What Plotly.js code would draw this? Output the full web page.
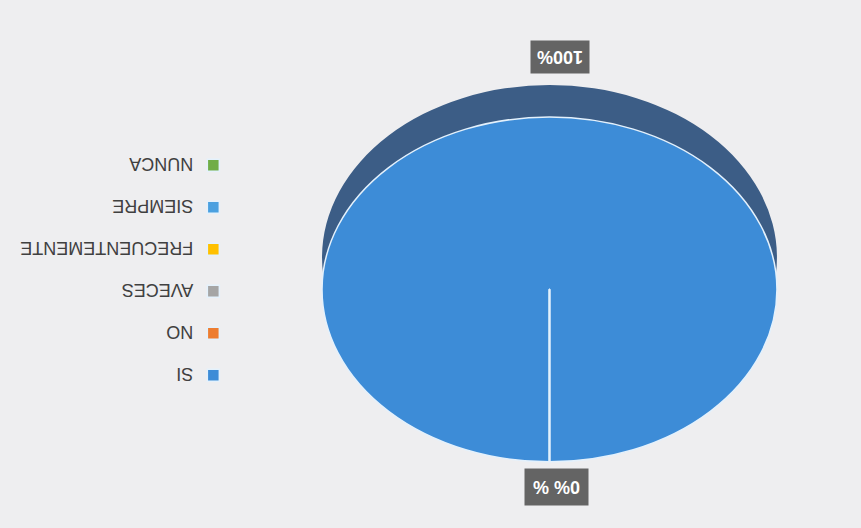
<!DOCTYPE html>
<html>
<head>
<meta charset="utf-8">
<script src="https://cdn.plot.ly/plotly-3.0.1.min.js"></script>
<style>
html, body { margin: 0; padding: 0; background: #eeeef0; overflow: hidden; }
#chart { width: 861px; height: 528px; transform: rotate(180deg); transform-origin: 50% 50%; }
</style>
</head>
<body>
<div id="chart"></div>
<script>
// ---- data ----
const categories = ['SI', 'NO', 'AVECES', 'FRECUENTEMENTE', 'SIEMPRE', 'NUNCA'];
const values = [100, 0, 0, 0, 0, 0];
const sliceColors = ['#3d8cd7', '#ed7d31', '#a5a5a5', '#ffc000', '#4aa0e0', '#70ad47'];
const sideColors = ['#3c5d86', '#9c4f1c', '#6b6b6b', '#a67d00', '#2e6a94', '#47722c'];

// ---- styling / geometry ----
const pieDomain = { x: [0.0976, 0.626], y: [0.1174, 0.979] };
const squash = 0.758;   // ellipse ratio of the tilted pie
const depth = 32;       // thickness of the 3-D side
const legendGap = 42;

const total = values.reduce((a, b) => a + b, 0);
const pct = v => Math.round(v / total * 100);
const bigLabel = pct(values[0]) + '%';
const smallLabel = pct(values[1]) + '% %';

const back = {
  type: 'pie', labels: categories, values: values, sort: false,
  domain: pieDomain, textinfo: 'none', showlegend: false, hoverinfo: 'skip',
  marker: { colors: sideColors, line: { width: 0 } }
};
const front = {
  type: 'pie', labels: categories, values: values, sort: false,
  domain: pieDomain, textinfo: 'none', hoverinfo: 'skip',
  marker: { colors: sliceColors, line: { color: '#e4f1fc', width: 1.5 } }
};

const labelFont = { family: 'Liberation Sans, Arial, sans-serif', size: 18, color: '#ffffff', weight: 'bold' };
const layout = {
  width: 861, height: 528,
  margin: { l: 0, r: 0, t: 0, b: 0 },
  paper_bgcolor: '#eeeef0',
  showlegend: true,
  legend: {
    x: 0.729, y: 0.745, xanchor: 'left', yanchor: 'top',
    bgcolor: 'rgba(0,0,0,0)',
    font: { family: 'Liberation Sans, Arial, sans-serif', size: 18, color: '#404040' },
    traceorder: 'normal'
  },
  annotations: [
    { text: '<b>' + bigLabel + '</b>', x: 0.350, y: 0.108, xref: 'paper', yref: 'paper',
      xanchor: 'center', yanchor: 'middle',
      showarrow: false, bgcolor: '#646464', borderpad: 6, font: labelFont },
    { text: '<b>' + smallLabel + '</b>', x: 0.354, y: 0.922, xref: 'paper', yref: 'paper',
      xanchor: 'center', yanchor: 'middle',
      showarrow: false, bgcolor: '#646464', borderpad: 8, font: labelFont }
  ]
};

const gd = document.getElementById('chart');
Plotly.newPlot(gd, [back, front], layout, { staticPlot: true, displayModeBar: false }).then(() => {
  const sz = gd._fullLayout._size;
  const cy = sz.t + sz.h * (1 - (pieDomain.y[0] + pieDomain.y[1]) / 2);
  const traces = gd.querySelectorAll('.pielayer .trace');
  traces.forEach((t, i) => {
    const dy = i === 0 ? depth : 0;
    t.querySelectorAll('path.surface').forEach(p => {
      p.setAttribute('transform', 'translate(0,' + (cy + dy) + ') scale(1,' + squash + ') translate(0,' + (-cy) + ')');
      p.setAttribute('vector-effect', 'non-scaling-stroke');
    });
  });
  const sb = gd.querySelector('.legend .scrollbox');
  if (sb) sb.removeAttribute('clip-path');
  const items = gd.querySelectorAll('.legend .traces');
  let y0 = null;
  items.forEach((it, i) => {
    const m = /translate\(\s*([-\d.]+)[ ,]+([-\d.]+)\s*\)/.exec(it.getAttribute('transform') || '');
    if (!m) return;
    if (y0 === null) y0 = parseFloat(m[2]);
    it.setAttribute('transform', 'translate(' + m[1] + ',' + (y0 + i * legendGap) + ')');
  });
});
</script>
</body>
</html>
